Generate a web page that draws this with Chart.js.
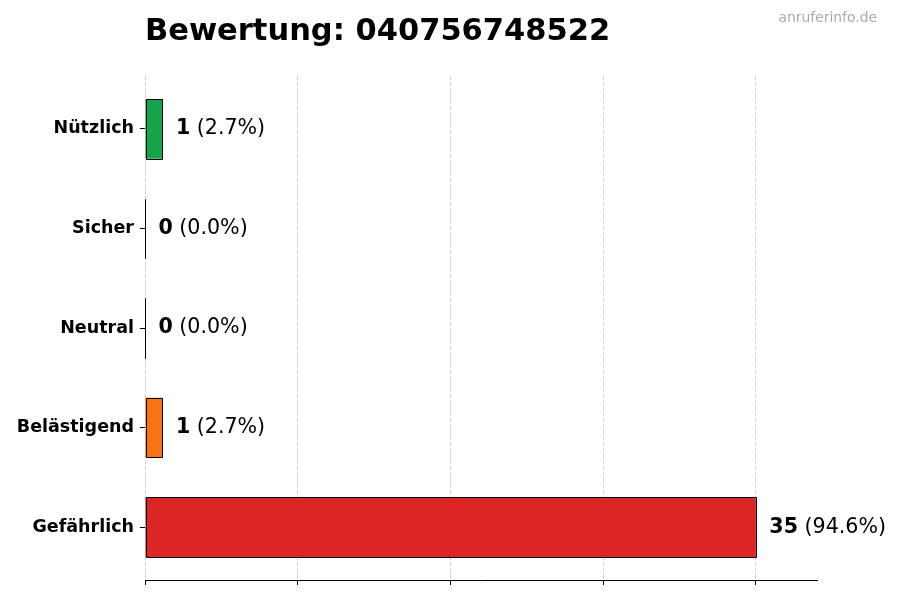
<!DOCTYPE html>
<html>
<head>
<meta charset="utf-8">
<script src="https://cdn.jsdelivr.net/npm/chart.js@4/dist/chart.umd.min.js"></script>
<style>
  html, body { margin: 0; padding: 0; background: #fff; }
  #wrap { width: 900px; height: 600px; position: relative; }
</style>
</head>
<body>
<div id="wrap"><canvas id="c" width="900" height="600"></canvas></div>
<script>
const chartTitle = 'Bewertung: 040756748522';
const watermark = 'anruferinfo.de';
const categories = ['Nützlich', 'Sicher', 'Neutral', 'Belästigend', 'Gefährlich'];
const counts = [1, 0, 0, 1, 35];
const percentLabels = ['2.7%', '0.0%', '0.0%', '2.7%', '94.6%'];
const barColors = ['#16a34a', '#3b82f6', '#9ca3af', '#f97316', '#dc2626'];
const axisMax = 38.5;
const tickStep = 8.75;

const FONT = '"DejaVu Sans", "Liberation Sans", sans-serif';

const overlayPlugin = {
  id: 'overlay',
  afterDatasetsDraw(chart) {
    const ctx = chart.ctx;
    const meta = chart.getDatasetMeta(0);
    ctx.save();
    ctx.strokeStyle = '#000';
    ctx.lineWidth = 1;
    meta.data.forEach((el) => {
      const p = el.getProps(['x', 'y', 'base', 'height'], true);
      const left = Math.round(Math.min(p.base, p.x)) + 0.5;
      const right = Math.round(Math.max(p.base, p.x)) + 0.5;
      const top = Math.round(p.y - p.height / 2) + 0.5;
      const bottom = Math.round(p.y + p.height / 2) + 0.5;
      ctx.beginPath();
      ctx.rect(left, top, right - left, bottom - top);
      ctx.stroke();
    });
    ctx.restore();
  },
  afterDraw(chart) {
    const ctx = chart.ctx;
    const area = chart.chartArea;
    const xScale = chart.scales.x;
    const meta = chart.getDatasetMeta(0);
    ctx.save();
    // title
    ctx.fillStyle = '#000';
    ctx.font = 'bold 30.5px ' + FONT;
    ctx.textAlign = 'left';
    ctx.textBaseline = 'alphabetic';
    ctx.fillText(chartTitle, area.left, 40);
    // watermark
    ctx.fillStyle = '#aaaaaa';
    ctx.font = '13.9px ' + FONT;
    ctx.textAlign = 'right';
    ctx.fillText(watermark, 877, 22);
    // value labels
    const offset = xScale.getPixelForValue(axisMax * 0.02) - xScale.getPixelForValue(0);
    ctx.textAlign = 'left';
    ctx.textBaseline = 'middle';
    meta.data.forEach((el, i) => {
      const p = el.getProps(['x', 'y'], true);
      let x = p.x + offset;
      const y = p.y;
      ctx.fillStyle = '#000';
      ctx.font = 'bold 20.6px ' + FONT;
      const boldText = String(counts[i]);
      ctx.fillText(boldText, x, y);
      x += ctx.measureText(boldText).width;
      ctx.font = '20.6px ' + FONT;
      ctx.fillText(' (' + percentLabels[i] + ')', x, y);
    });
    ctx.restore();
  }
};

new Chart(document.getElementById('c'), {
  type: 'bar',
  data: {
    labels: categories,
    datasets: [{
      data: counts,
      backgroundColor: barColors,
      borderWidth: 0,
      barPercentage: 0.6,
      categoryPercentage: 1.0
    }]
  },
  options: {
    indexAxis: 'y',
    responsive: false,
    animation: false,
    devicePixelRatio: 1,
    layout: { padding: { left: 0, right: 83, top: 76, bottom: 0 } },
    plugins: {
      legend: { display: false },
      tooltip: { enabled: false },
      title: { display: false }
    },
    scales: {
      x: {
        type: 'linear',
        min: 0,
        max: axisMax,
        z: 1,
        ticks: { display: false, stepSize: tickStep, includeBounds: false },
        grid: {
          color: 'rgba(176,176,176,0.6)',
          lineWidth: 1,
          drawTicks: true,
          tickLength: 5,
          tickColor: '#000',
          tickWidth: 1
        },
        border: { display: true, color: '#000', width: 1, dash: [4, 2] },
        afterFit(scale) { scale.height = 20; }
      },
      y: {
        type: 'category',
        offset: true,
        ticks: {
          color: '#000',
          padding: 6,
          font: { family: FONT, size: 17.5, weight: 'bold' }
        },
        grid: {
          offset: false,
          drawOnChartArea: false,
          drawTicks: true,
          tickLength: 5,
          tickColor: '#000',
          tickWidth: 1
        },
        border: { display: false },
        afterFit(scale) { scale.width = 145; },
        afterBuildTicks(scale) {
          // matplotlib-like margins: 0.53 category units on each side
          scale._startValue = -0.53;
          scale._valueRange = categories.length - 1 + 1.06;
        }
      }
    }
  },
  plugins: [overlayPlugin]
});
</script>
</body>
</html>
